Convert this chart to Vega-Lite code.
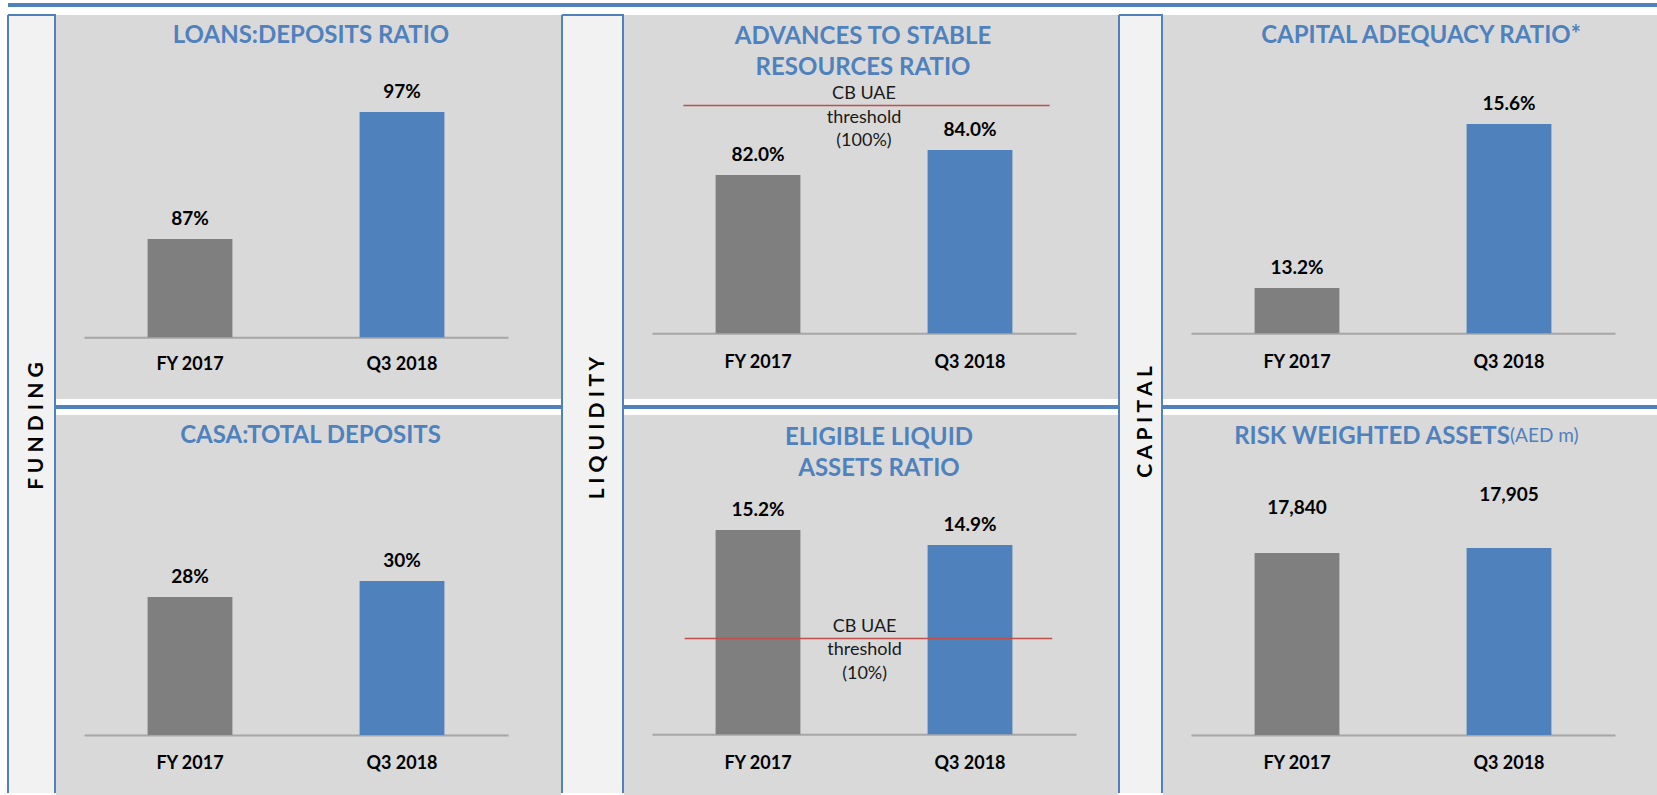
{
  "$schema": "https://vega.github.io/schema/vega-lite/v6.json",
  "background": "white",
  "padding": {"left": 7, "top": 3, "right": 0, "bottom": 0},
  "config": {
    "font": "Lato",
    "view": {"stroke": null},
    "title": {"font": "Lato", "fontSize": 24, "fontWeight": "bold", "color": "#4f81bd", "anchor": "middle", "frame": "group", "lineHeight": 31.7, "baseline": "middle"},
    "axisX": {"ticks": false, "labelAngle": 0, "labelFont": "Lato", "labelFontSize": 18, "labelFontWeight": "bold", "labelColor": "#000000", "labelBaseline": "middle", "domainColor": "#a6a6a6", "domainWidth": 2, "grid": false},
    "text": {"font": "Lato"}
  },
  "datasets": {
    "bars": [
      {"panel": "ld", "period": "FY 2017", "value": 0.87},
      {"panel": "ld", "period": "Q3 2018", "value": 0.97},
      {"panel": "asr", "period": "FY 2017", "value": 0.82},
      {"panel": "asr", "period": "Q3 2018", "value": 0.84},
      {"panel": "car", "period": "FY 2017", "value": 0.132},
      {"panel": "car", "period": "Q3 2018", "value": 0.156},
      {"panel": "casa", "period": "FY 2017", "value": 0.28},
      {"panel": "casa", "period": "Q3 2018", "value": 0.30},
      {"panel": "ela", "period": "FY 2017", "value": 0.152},
      {"panel": "ela", "period": "Q3 2018", "value": 0.149},
      {"panel": "rwa", "period": "FY 2017", "value": 17840},
      {"panel": "rwa", "period": "Q3 2018", "value": 17905}
    ],
    "thresholds": [
      {"panel": "asr", "value": 1.0, "label": ["CB UAE", "threshold", "(100%)"]},
      {"panel": "ela", "value": 0.10, "label": ["CB UAE", "threshold", "(10%)"]}
    ],
    "sections": [
      {"label": "F U N D I N G"},
      {"label": "L I Q U I D I T Y"},
      {"label": "C A P I T A L"}
    ]
  },
  "spacing": 8,
  "bounds": "flush",
  "vconcat": [
    {"width": 1650, "height": 4, "data": {"values": []}, "mark": "point", "view": {"fill": "#4f81bd", "stroke": null}},
    {
      "spacing": 0,
      "hconcat": [
        {
          "width": 47, "height": 778,
          "view": {"fill": "#f2f2f2", "stroke": "#4f81bd", "strokeWidth": 2, "strokeDash": [825, 47, 778, 0]},
          "data": {"name": "sections"},
          "transform": [{"filter": "datum.label === 'F U N D I N G'"}],
          "mark": {"type": "text", "angle": 270, "fontSize": 21, "fontWeight": "bold", "color": "#000000", "baseline": "middle", "dx": -22, "dy": 5},
          "encoding": {"text": {"field": "label"}}
        },
        {
          "spacing": 6,
          "bounds": "flush",
          "vconcat": [
            {
              "width": 505, "height": 384,
              "view": {"fill": "#d9d9d9", "stroke": null},
              "title": {"text": "LOANS:DEPOSITS RATIO", "offset": -33.4, "dx": 2.5},
              "data": {"name": "bars"},
              "transform": [{"filter": "datum.panel === 'ld'"}],
              "encoding": {
                "x": {"field": "period", "type": "nominal", "sort": null, "scale": {"range": [28, 452], "paddingInner": 0.6, "paddingOuter": 0.3}, "axis": {"title": null, "offset": -61.8, "labelPadding": 27.3}},
                "y": {"field": "value", "type": "quantitative", "scale": {"domain": [0.744, 1.0464], "nice": false, "zero": false}, "axis": null}
              },
              "layer": [
                {"mark": "bar", "encoding": {"y2": {"datum": 0.7927}, "color": {"field": "period", "type": "nominal", "scale": {"domain": ["FY 2017", "Q3 2018"], "range": ["#7f7f7f", "#4f81bd"]}, "legend": null}}},
                {"mark": {"type": "text", "dy": -20, "fontSize": 19, "fontWeight": "bold", "color": "#000000"}, "encoding": {"text": {"field": "value", "type": "quantitative", "format": ".0%"}}}
              ]
            },
            {"width": 505, "height": 4, "data": {"values": []}, "mark": "point", "view": {"fill": "#4f81bd", "stroke": null}},
            {
              "width": 505, "height": 380,
              "view": {"fill": "#d9d9d9", "stroke": null},
              "title": {"text": "CASA:TOTAL DEPOSITS", "offset": -33.4, "dx": 2},
              "data": {"name": "bars"},
              "transform": [{"filter": "datum.panel === 'casa'"}],
              "encoding": {
                "x": {"field": "period", "type": "nominal", "sort": null, "scale": {"range": [28, 452], "paddingInner": 0.6, "paddingOuter": 0.3}, "axis": {"title": null, "offset": -60, "labelPadding": 28.3}},
                "y": {"field": "value", "type": "quantitative", "scale": {"domain": [0.0325, 0.5075], "nice": false, "zero": false}, "axis": null}
              },
              "layer": [
                {"mark": "bar", "encoding": {"y2": {"datum": 0.1075}, "color": {"field": "period", "type": "nominal", "scale": {"domain": ["FY 2017", "Q3 2018"], "range": ["#7f7f7f", "#4f81bd"]}, "legend": null}}},
                {"mark": {"type": "text", "dy": -20, "fontSize": 19, "fontWeight": "bold", "color": "#000000"}, "encoding": {"text": {"field": "value", "type": "quantitative", "format": ".0%"}}}
              ]
            }
          ]
        },
        {
          "width": 61, "height": 778,
          "view": {"fill": "#f2f2f2", "stroke": "#4f81bd", "strokeWidth": 2, "strokeDash": [839, 61, 778, 0]},
          "data": {"name": "sections"},
          "transform": [{"filter": "datum.label === 'L I Q U I D I T Y'"}],
          "mark": {"type": "text", "angle": 270, "fontSize": 21, "fontWeight": "bold", "color": "#000000", "baseline": "middle", "dx": -24, "dy": 5},
          "encoding": {"text": {"field": "label"}}
        },
        {
          "spacing": 6,
          "bounds": "flush",
          "vconcat": [
            {
              "width": 494, "height": 384,
              "view": {"fill": "#d9d9d9", "stroke": null},
              "title": {"text": ["ADVANCES TO STABLE", "RESOURCES RATIO"], "offset": -65.3, "dx": -8, "lineHeight": 31.7},
              "resolve": {"scale": {"y": "independent"}},
              "layer": [
                {
                  "data": {"name": "bars"},
                  "transform": [{"filter": "datum.panel === 'asr'"}],
                  "encoding": {
                    "x": {"field": "period", "type": "nominal", "sort": null, "scale": {"range": [28, 452], "paddingInner": 0.6, "paddingOuter": 0.3}, "axis": {"title": null, "offset": -65.7, "labelPadding": 29}},
                    "y": {"field": "value", "type": "quantitative", "scale": {"domain": [0.6408, 0.948], "nice": false, "zero": false}, "axis": null}
                  },
                  "layer": [
                    {"mark": "bar", "encoding": {"y2": {"datum": 0.6934}, "color": {"field": "period", "type": "nominal", "scale": {"domain": ["FY 2017", "Q3 2018"], "range": ["#7f7f7f", "#4f81bd"]}, "legend": null}}},
                    {"mark": {"type": "text", "dy": -20, "fontSize": 19, "fontWeight": "bold", "color": "#000000"}, "encoding": {"text": {"field": "value", "type": "quantitative", "format": ".1%"}}}
                  ]
                },
                {
                  "data": {"name": "thresholds"},
                  "transform": [{"filter": "datum.panel === 'asr'"}],
                  "encoding": {
                    "y": {"field": "value", "type": "quantitative", "scale": {"domain": [0, 1.3084], "nice": false, "zero": false}, "axis": null}
                  },
                  "layer": [
                    {"mark": {"type": "rule", "color": "#c0504d", "strokeWidth": 1.5}, "encoding": {"x": {"datum": "FY 2017", "bandPosition": -0.38}, "x2": {"datum": "Q3 2018", "bandPosition": 1.44}}},
                    {"mark": {"type": "text", "fontSize": 18, "lineHeight": 23.5, "dy": -11.5, "color": "#1a1a1a", "baseline": "middle"}, "encoding": {"x": {"datum": "FY 2017", "bandPosition": 1.75}, "text": {"field": "label"}}}
                  ]
                }
              ]
            },
            {"width": 494, "height": 4, "data": {"values": []}, "mark": "point", "view": {"fill": "#4f81bd", "stroke": null}},
            {
              "width": 494, "height": 380,
              "view": {"fill": "#d9d9d9", "stroke": null},
              "title": {"text": ["ELIGIBLE LIQUID", "ASSETS RATIO"], "offset": -66.3, "dx": 8, "lineHeight": 31.7},
              "resolve": {"scale": {"y": "independent"}},
              "layer": [
                {
                  "data": {"name": "bars"},
                  "transform": [{"filter": "datum.panel === 'ela'"}],
                  "encoding": {
                    "x": {"field": "period", "type": "nominal", "sort": null, "scale": {"range": [28, 452], "paddingInner": 0.6, "paddingOuter": 0.3}, "axis": {"title": null, "offset": -60.7, "labelPadding": 29}},
                    "y": {"field": "value", "type": "quantitative", "scale": {"domain": [0.099, 0.175], "nice": false, "zero": false}, "axis": null}
                  },
                  "layer": [
                    {"mark": "bar", "encoding": {"y2": {"datum": 0.11114}, "color": {"field": "period", "type": "nominal", "scale": {"domain": ["FY 2017", "Q3 2018"], "range": ["#7f7f7f", "#4f81bd"]}, "legend": null}}},
                    {"mark": {"type": "text", "dy": -20, "fontSize": 19, "fontWeight": "bold", "color": "#000000"}, "encoding": {"text": {"field": "value", "type": "quantitative", "format": ".1%"}}}
                  ]
                },
                {
                  "data": {"name": "thresholds"},
                  "transform": [{"filter": "datum.panel === 'ela'"}],
                  "encoding": {
                    "y": {"field": "value", "type": "quantitative", "scale": {"domain": [0, 0.2427], "nice": false, "zero": false}, "axis": null}
                  },
                  "layer": [
                    {"mark": {"type": "rule", "color": "#c0504d", "strokeWidth": 1.5}, "encoding": {"x": {"datum": "FY 2017", "bandPosition": -0.365}, "x2": {"datum": "Q3 2018", "bandPosition": 1.47}}},
                    {"mark": {"type": "text", "fontSize": 18, "lineHeight": 23.5, "dy": -11.5, "color": "#1a1a1a", "baseline": "middle"}, "encoding": {"x": {"datum": "FY 2017", "bandPosition": 1.757}, "text": {"field": "label"}}}
                  ]
                }
              ]
            }
          ]
        },
        {
          "width": 43, "height": 778,
          "view": {"fill": "#f2f2f2", "stroke": "#4f81bd", "strokeWidth": 2, "strokeDash": [821, 43, 778, 0]},
          "data": {"name": "sections"},
          "transform": [{"filter": "datum.label === 'C A P I T A L'"}],
          "mark": {"type": "text", "angle": 270, "fontSize": 21, "fontWeight": "bold", "color": "#000000", "baseline": "middle", "dx": -18, "dy": 5},
          "encoding": {"text": {"field": "label"}}
        },
        {
          "spacing": 6,
          "bounds": "flush",
          "vconcat": [
            {
              "width": 494, "height": 384,
              "view": {"fill": "#d9d9d9", "stroke": null},
              "title": {"text": "CAPITAL ADEQUACY RATIO*", "offset": -33.4, "dx": 11},
              "data": {"name": "bars"},
              "transform": [{"filter": "datum.panel === 'car'"}],
              "encoding": {
                "x": {"field": "period", "type": "nominal", "sort": null, "scale": {"range": [28, 452], "paddingInner": 0.6, "paddingOuter": 0.3}, "axis": {"title": null, "offset": -65.7, "labelPadding": 29.4}},
                "y": {"field": "value", "type": "quantitative", "scale": {"domain": [0.11575, 0.17195], "nice": false, "zero": false}, "axis": null}
              },
              "layer": [
                {"mark": "bar", "encoding": {"y2": {"datum": 0.12537}, "color": {"field": "period", "type": "nominal", "scale": {"domain": ["FY 2017", "Q3 2018"], "range": ["#7f7f7f", "#4f81bd"]}, "legend": null}}},
                {"mark": {"type": "text", "dy": -20, "fontSize": 19, "fontWeight": "bold", "color": "#000000"}, "encoding": {"text": {"field": "value", "type": "quantitative", "format": ".1%"}}}
              ]
            },
            {"width": 494, "height": 4, "data": {"values": []}, "mark": "point", "view": {"fill": "#4f81bd", "stroke": null}},
            {
              "width": 494, "height": 380,
              "view": {"fill": "#d9d9d9", "stroke": null},
              "title": {"text": "RISK WEIGHTED ASSETS", "offset": -34, "dx": -38},
              "data": {"name": "bars"},
              "transform": [{"filter": "datum.panel === 'rwa'"}],
              "encoding": {
                "x": {"field": "period", "type": "nominal", "sort": null, "scale": {"range": [28, 452], "paddingInner": 0.6, "paddingOuter": 0.3}, "axis": {"title": null, "offset": -60, "labelPadding": 28.3}},
                "y": {"field": "value", "type": "quantitative", "scale": {"domain": [14694, 19634], "nice": false, "zero": false}, "axis": {"orient": "left", "domain": false, "ticks": false, "labels": false, "grid": false, "title": "(AED m)", "titleAngle": 0, "titleX": 346.5, "titleY": 26.8, "titleAlign": "left", "titleBaseline": "alphabetic", "titleFont": "Lato", "titleFontSize": 19, "titleFontWeight": "normal", "titleColor": "#4f81bd", "titlePadding": 0}}
              },
              "layer": [
                {"mark": "bar", "encoding": {"y2": {"datum": 15474}, "color": {"field": "period", "type": "nominal", "scale": {"domain": ["FY 2017", "Q3 2018"], "range": ["#7f7f7f", "#4f81bd"]}, "legend": null}}},
                {"transform": [{"filter": "datum.period === 'FY 2017'"}], "mark": {"type": "text", "dy": -45, "fontSize": 19, "fontWeight": "bold", "color": "#000000"}, "encoding": {"text": {"field": "value", "type": "quantitative", "format": ","}}},
                {"transform": [{"filter": "datum.period === 'Q3 2018'"}], "mark": {"type": "text", "dy": -53, "fontSize": 19, "fontWeight": "bold", "color": "#000000"}, "encoding": {"text": {"field": "value", "type": "quantitative", "format": ","}}}
              ]
            }
          ]
        }
      ]
    }
  ]
}
